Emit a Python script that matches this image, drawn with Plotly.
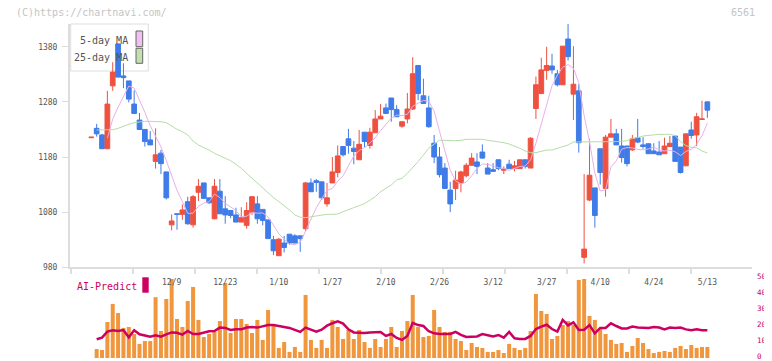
import plotly.graph_objects as go

# ---------------- data ----------------
candle_no = list(range(1, 117))

open_ = [1215, 1232, 1220, 1195, 1309, 1385, 1327, 1318, 1276, 1247,
         1230, 1211, 1172, 1187, 1153, 1057, 1077, 1076, 1099, 1057,
         1116, 1133, 1106, 1068, 1118, 1086, 1083, 1075, 1062, 1056,
         1080, 1095, 1085, 1066, 1030, 1001, 1024, 1040, 1037, 1037,
         1050, 1133, 1137, 1135, 1095, 1133, 1152, 1199, 1213, 1196,
         1175, 1225, 1201, 1224, 1249, 1269, 1287, 1266, 1236, 1249,
         1267, 1346, 1291, 1269, 1205, 1180, 1160, 1120, 1123, 1133,
         1146, 1165, 1171, 1189, 1160, 1157, 1175, 1156, 1167, 1159,
         1159, 1175, 1160, 1268, 1295, 1337, 1345, 1331, 1311, 1394,
         1294, 1300, 998, 1102, 1124, 1195, 1123, 1216, 1222, 1200,
         1200, 1193, 1215, 1202, 1204, 1191, 1189, 1186, 1199, 1218,
         1198, 1164, 1229, 1220, 1248, 1280]
high = [1216, 1240, 1222, 1300, 1352, 1386, 1350, 1318, 1301, 1260,
        1230, 1227, 1232, 1193, 1153, 1076, 1077, 1094, 1108, 1111,
        1140, 1133, 1106, 1140, 1140, 1109, 1083, 1088, 1089, 1098,
        1109, 1109, 1085, 1066, 1037, 1033, 1037, 1040, 1040, 1037,
        1135, 1141, 1140, 1135, 1133, 1180, 1201, 1199, 1231, 1209,
        1229, 1225, 1233, 1265, 1276, 1277, 1287, 1274, 1244, 1296,
        1361, 1346, 1322, 1291, 1220, 1198, 1169, 1135, 1155, 1155,
        1169, 1187, 1187, 1203, 1169, 1169, 1175, 1163, 1175, 1173,
        1175, 1175, 1216, 1326, 1360, 1380, 1367, 1338, 1381, 1421,
        1381, 1312, 1149, 1213, 1124, 1195, 1220, 1249, 1231, 1231,
        1200, 1220, 1249, 1216, 1205, 1205, 1209, 1215, 1218, 1218,
        1198, 1222, 1244, 1260, 1282, 1280]
low = [1215, 1217, 1195, 1195, 1300, 1324, 1305, 1279, 1259, 1230,
       1199, 1202, 1159, 1149, 1103, 1047, 1048, 1066, 1057, 1052,
       1100, 1105, 1095, 1067, 1077, 1059, 1069, 1062, 1062, 1050,
       1075, 1059, 1056, 1032, 1002, 1001, 1007, 1021, 1024, 1008,
       1045, 1117, 1117, 1102, 1090, 1133, 1143, 1181, 1186, 1167,
       1175, 1198, 1195, 1224, 1249, 1259, 1244, 1253, 1233, 1241,
       1265, 1283, 1277, 1233, 1169, 1143, 1123, 1080, 1102, 1116,
       1143, 1165, 1149, 1177, 1149, 1153, 1156, 1149, 1159, 1154,
       1159, 1159, 1160, 1249, 1295, 1320, 1331, 1308, 1311, 1355,
       1247, 1188, 987, 1100, 1052, 1130, 1108, 1216, 1202, 1170,
       1163, 1191, 1205, 1195, 1186, 1186, 1184, 1186, 1199, 1172,
       1150, 1164, 1213, 1200, 1248, 1251]
close = [1216, 1222, 1195, 1276, 1334, 1325, 1324, 1285, 1259, 1230,
         1208, 1202, 1184, 1168, 1106, 1064, 1076, 1084, 1059, 1108,
         1127, 1105, 1097, 1127, 1077, 1075, 1074, 1062, 1070, 1083,
         1108, 1068, 1065, 1032, 1010, 1031, 1016, 1024, 1024, 1032,
         1133, 1117, 1134, 1106, 1106, 1153, 1182, 1184, 1201, 1190,
         1203, 1208, 1225, 1249, 1254, 1259, 1266, 1253, 1244, 1267,
         1331, 1295, 1277, 1235, 1180, 1148, 1123, 1095, 1138, 1153,
         1165, 1178, 1163, 1178, 1149, 1154, 1159, 1158, 1159, 1164,
         1175, 1163, 1214, 1311, 1338, 1346, 1338, 1311, 1381, 1362,
         1312, 1206, 1013, 1147, 1074, 1152, 1216, 1222, 1202, 1179,
         1168, 1213, 1207, 1199, 1186, 1186, 1184, 1200, 1205, 1172,
         1152, 1222, 1219, 1253, 1249, 1265]

# 5-day MA (from candle 4) and 25-day MA (from candle 2)
ma5 = [1214, 1248.7, 1270.4, 1290.7, 1308.6, 1305.1, 1284.3, 1261.0, 1236.6, 1216.5,
       1198.3, 1173.5, 1144.7, 1119.5, 1099.5, 1077.7, 1078.1, 1090.7, 1096.4, 1099.0,
       1112.6, 1106.5, 1096.1, 1090.0, 1082.9, 1071.4, 1072.7, 1079.2, 1078.0, 1078.6,
       1071.1, 1056.4, 1041.1, 1030.7, 1022.5, 1020.9, 1025.3, 1045.7, 1066.0, 1088.0,
       1104.3, 1119.1, 1123.1, 1136.1, 1146.0, 1165.0, 1181.8, 1191.8, 1197.0, 1205.3,
       1215.0, 1227.8, 1239.0, 1250.6, 1256.0, 1255.0, 1257.5, 1271.9, 1277.7, 1282.6,
       1280.7, 1263.3, 1226.8, 1192.3, 1156.0, 1136.6, 1131.3, 1134.7, 1145.9, 1159.3,
       1167.4, 1166.6, 1164.3, 1160.4, 1159.5, 1155.7, 1158.6, 1162.9, 1163.6, 1174.8,
       1205.1, 1239.9, 1274.2, 1309.3, 1328.7, 1342.8, 1347.6, 1340.9, 1314.5, 1255.0,
       1208.2, 1150.5, 1118.4, 1120.4, 1162.2, 1173.0, 1194.1, 1197.3, 1196.6, 1193.7,
       1193.1, 1194.6, 1198.2, 1192.5, 1191.0, 1192.3, 1189.5, 1182.6, 1190.1, 1193.8,
       1203.3, 1218.7, 1241.5]
ma25 = [1229, 1229, 1229, 1229.6, 1232, 1236.3, 1239.3, 1242.3, 1244, 1244.7,
        1244.7, 1244.7, 1244, 1242.3, 1236.3, 1230.2, 1226, 1220, 1209, 1201.8,
        1197, 1192.7, 1186.7, 1182.5, 1177.6, 1173.4, 1166.8, 1159.5, 1150.4, 1141.4,
        1132.3, 1123.2, 1114.2, 1106.3, 1099.1, 1091.8, 1084, 1074.9, 1070.7, 1070,
        1071.3, 1072.5, 1074.9, 1076.1, 1076.1, 1076.7, 1080.9, 1084, 1088.2, 1091.8,
        1095.4, 1101.5, 1108.1, 1117.2, 1123.2, 1129.3, 1138.4, 1141.4, 1150.4, 1160.7,
        1171.6, 1183.7, 1195.8, 1203.6, 1210.3, 1210.3, 1209.7, 1209.7, 1210.3, 1212.1,
        1212.1, 1212.1, 1212.1, 1210.3, 1209.1, 1207.3, 1206, 1203.6, 1200, 1195.8,
        1190.9, 1187.9, 1187.9, 1190.9, 1192.7, 1192.7, 1195.8, 1198.8, 1201.8, 1207.3,
        1207.3, 1207.9, 1207.9, 1207.3, 1206.6, 1206.6, 1206.6, 1207.9, 1208.5, 1209.7,
        1213.9, 1215.1, 1218.1, 1219.3, 1219.9, 1221.2, 1221.2, 1221.2, 1218.7, 1207.9,
        1200.6, 1197.6, 1197, 1190.9, 1187.3]

# AI-Predict panel (candles 2..116)
ai_bar = [5.6, 5.0, 22.5, 33.8, 28.1, 18.8, 19.4, 15.0, 8.8, 10.6,
          10.6, 38.0, 16.9, 36.9, 49.4, 24.4, 19.4, 35.6, 44.4, 23.8,
          13.1, 15.0, 16.3, 23.1, 46.9, 15.6, 24.4, 24.4, 21.3, 15.6,
          23.8, 11.3, 30.0, 20.6, 6.3, 10.0, 3.8, 6.9, 3.8, 39.4,
          11.3, 6.3, 11.3, 6.3, 23.8, 19.4, 11.9, 17.5, 11.9, 17.5,
          10.0, 6.3, 11.9, 6.9, 11.9, 19.4, 6.9, 16.9, 23.1, 39.4,
          19.4, 13.1, 13.8, 30.0, 19.4, 16.3, 16.3, 11.9, 10.6, 5.0,
          9.4, 6.9, 6.3, 3.8, 3.8, 5.0, 3.1, 8.8, 6.3, 5.0,
          6.3, 16.9, 40.0, 29.4, 27.5, 11.9, 13.8, 20.6, 23.1, 20.6,
          48.8, 49.4, 26.3, 23.8, 18.8, 15.0, 11.3, 8.8, 9.4, 3.8,
          7.5, 12.5, 9.4, 5.6, 3.1, 3.8, 4.4, 3.8, 6.3, 7.5,
          5.6, 8.1, 6.3, 6.9, 6.9]
ai_line = [11.7, 12.7, 16.5, 17.3, 16.9, 17.5, 12.9, 17.3, 14.8, 14.2,
           13.3, 14.2, 13.3, 14.8, 16.0, 15.8, 14.6, 16.9, 15.0, 15.0,
           16.0, 16.7, 16.9, 19.0, 18.8, 17.5, 17.9, 17.9, 19.0, 19.4,
           19.0, 20.0, 20.6, 20.6, 19.8, 19.4, 18.8, 17.5, 16.3, 19.0,
           17.5, 16.5, 17.7, 20.2, 21.7, 22.9, 21.5, 17.9, 16.0, 15.8,
           15.6, 16.0, 16.0, 16.3, 13.8, 15.0, 12.5, 11.3, 13.8, 22.0,
           20.6, 20.0, 16.7, 15.4, 15.0, 15.0, 15.0, 16.3, 14.4, 13.1,
           13.1, 13.5, 15.0, 14.4, 13.5, 14.4, 12.7, 16.3, 12.3, 11.9,
           11.9, 13.8, 18.1, 19.6, 20.8, 18.1, 16.5, 23.8, 20.4, 22.3,
           17.5, 17.7, 20.6, 15.4, 18.8, 18.8, 21.7, 20.0, 18.5, 18.5,
           19.6, 19.0, 18.8, 18.8, 19.4, 19.0, 17.9, 19.0, 18.8, 19.0,
           17.9, 17.3, 17.9, 17.3, 17.3]

date_labels = ['12/9', '12/23', '1/10', '1/27', '2/10', '2/26',
               '3/12', '3/27', '4/10', '4/24', '5/13']
date_label_candle = [16, 26, 36, 46, 56, 66, 76, 86, 96, 106, 116]
price_ticks = [980, 1080, 1180, 1280, 1380]
ai_ticks = [0, 10, 20, 30, 40, 50]

# ---------------- styles ----------------
RED = '#ef5140'
BLUE = '#3f7ce8'
PINK = '#e8b0e8'
GREEN = '#b4dca8'
ORANGE = '#f0963c'
MAG = '#cc0060'
AX = '#dddddd'
MONO = 'DejaVu Sans Mono'

W, H = 772, 361
OFF = 8                      # the page's default body margin
PLOT_L, PLOT_R = 70, 752     # plot edges as seen on the page
L = PLOT_L - OFF
R = W - (PLOT_R - OFF)
PX_PER_CANDLE = 5.357
FIRST_PX = 91.3
x_lo = 1 + (PLOT_L - FIRST_PX) / PX_PER_CANDLE
x_hi = 1 + (PLOT_R - FIRST_PX) / PX_PER_CANDLE
tick_step = 62 / PX_PER_CANDLE
tick_start = 1 + (132.7 - FIRST_PX) / PX_PER_CANDLE


def py(px):  # page pixel row -> paper fraction
    return (H - (px - OFF)) / H


def pxx(px):  # page pixel column -> paper fraction
    return (px - OFF - L) / (W - L - R)


fig = go.Figure()
fig.add_trace(go.Candlestick(
    x=candle_no, open=open_, high=high, low=low, close=close,
    increasing=dict(line=dict(color=RED, width=1), fillcolor=RED),
    decreasing=dict(line=dict(color=BLUE, width=1), fillcolor=BLUE),
    whiskerwidth=0, hoverinfo='skip', xaxis='x', yaxis='y'))
fig.add_trace(go.Scatter(x=candle_no[3:], y=ma5, mode='lines',
                         line=dict(color=PINK, width=1), hoverinfo='skip',
                         xaxis='x', yaxis='y'))
fig.add_trace(go.Scatter(x=candle_no[1:], y=ma25, mode='lines',
                         line=dict(color=GREEN, width=1), hoverinfo='skip',
                         xaxis='x', yaxis='y'))
fig.add_trace(go.Bar(x=candle_no[1:], y=ai_bar, marker=dict(color=ORANGE, line=dict(width=0)),
                     width=0.75, hoverinfo='skip', xaxis='x2', yaxis='y2'))
fig.add_trace(go.Scatter(x=candle_no[1:], y=ai_line, mode='lines',
                         line=dict(color=MAG, width=2.5), hoverinfo='skip',
                         xaxis='x2', yaxis='y2'))

fig.update_layout(
    width=W, height=H, margin=dict(l=L, r=R, t=0, b=0, autoexpand=False),
    paper_bgcolor='white', plot_bgcolor='white', showlegend=False,
    boxgap=0.12, boxgroupgap=0,
    xaxis=dict(domain=[0, 1], range=[x_lo, x_hi], anchor='y', automargin=False,
               showgrid=False, zeroline=False, showline=True, linecolor=AX, linewidth=2,
               tickmode='linear', tick0=tick_start, dtick=tick_step,
               ticks='outside', ticklen=5, tickwidth=2, tickcolor=AX,
               showticklabels=False, rangeslider=dict(visible=False)),
    xaxis3=dict(overlaying='x', anchor='y', range=[x_lo, x_hi], automargin=False,
                showgrid=False, zeroline=False, showline=False,
                tickmode='linear', tick0=tick_start, dtick=tick_step,
                ticks='inside', ticklen=4, tickwidth=2, tickcolor=AX,
                showticklabels=False),
    yaxis=dict(domain=[py(267.3), py(24)], range=[980, 1421.2], anchor='x', automargin=False,
               showgrid=False, zeroline=False, showline=True, linecolor=AX, linewidth=2,
               tickmode='array', tickvals=price_ticks,
               ticks='outside', ticklen=6, tickwidth=1, tickcolor=AX,
               ticklabelstandoff=3,
               tickfont=dict(family=MONO, size=8, color='#555')),
    xaxis2=dict(matches='x', anchor='free', position=py(267.3), automargin=False,
                showgrid=False, zeroline=False, showline=False,
                tickmode='array', tickvals=date_label_candle, ticktext=date_labels,
                ticks='', ticklabelstandoff=9,
                tickfont=dict(family=MONO, size=8, color='#555')),
    yaxis2=dict(domain=[py(358), py(270)], range=[0, 55], anchor='x2', side='right',
                automargin=False,
                showgrid=False, zeroline=False, showline=False,
                tickmode='array', tickvals=ai_ticks, ticks='',
                ticklabelstandoff=4, ticklabelshift=-2,
                tickfont=dict(family=MONO, size=7.5, color=MAG)),
)

shapes = [
    dict(type='rect', xref='paper', yref='paper', x0=pxx(70.7), x1=pxx(148.3),
         y0=py(71), y1=py(24), line=dict(color=AX, width=1), fillcolor='white', layer='below'),
    dict(type='rect', xref='paper', yref='paper', x0=pxx(136), x1=pxx(142.7),
         y0=py(46.7), y1=py(31), line=dict(color='#666', width=1), fillcolor='#f0c0f0'),
    dict(type='rect', xref='paper', yref='paper', x0=pxx(136), x1=pxx(142.7),
         y0=py(63.3), y1=py(48.3), line=dict(color='#666', width=1), fillcolor='#c0e0b0'),
    dict(type='rect', xref='paper', yref='paper', x0=pxx(142.3), x1=pxx(148.7),
         y0=py(292.7), y1=py(277.3), line=dict(width=0), fillcolor=MAG),
]
fig.update_layout(shapes=shapes)

ann = [
    dict(text='(C)https://chartnavi.com/', x=pxx(14), y=py(12), xanchor='left', yanchor='middle',
         font=dict(family=MONO, size=10, color='#c4c4c4')),
    dict(text='6561', x=pxx(757), y=py(12), xanchor='right', yanchor='middle',
         font=dict(family=MONO, size=10, color='#c4c4c4')),
    dict(text='5-day MA', x=pxx(130), y=py(40), xanchor='right', yanchor='middle',
         font=dict(family=MONO, size=10, color='#555')),
    dict(text='25-day MA', x=pxx(130), y=py(57), xanchor='right', yanchor='middle',
         font=dict(family=MONO, size=10, color='#555')),
    dict(text='AI-Predict', x=pxx(75), y=py(286), xanchor='left', yanchor='middle',
         font=dict(family=MONO, size=10, color=MAG)),
]
for a in ann:
    a.update(xref='paper', yref='paper', showarrow=False)
fig.update_layout(annotations=ann)

fig.write_html('out.html')
